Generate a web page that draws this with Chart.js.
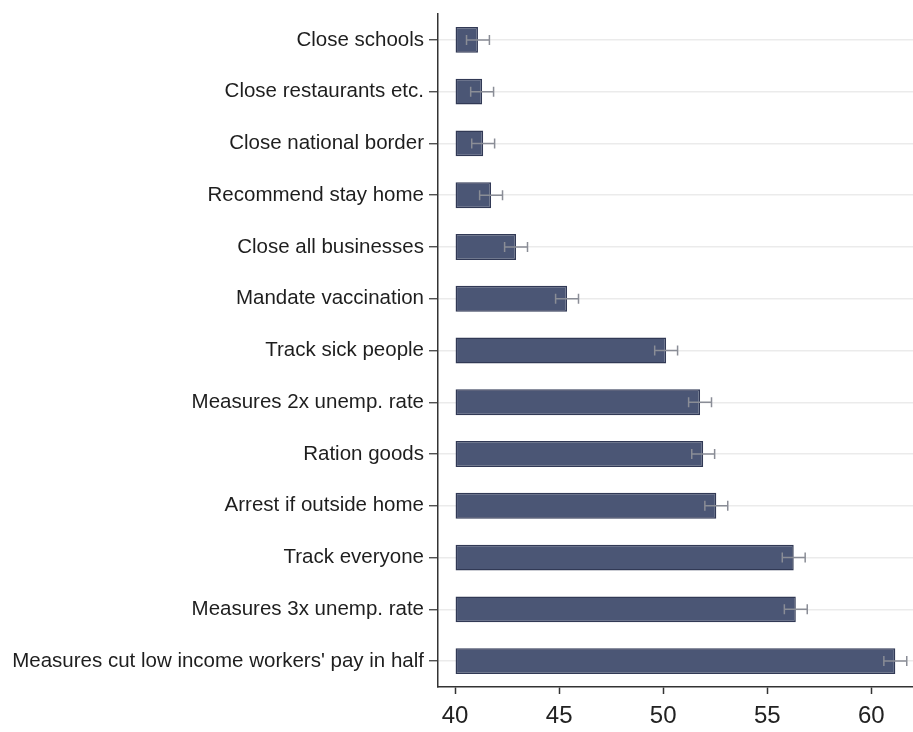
<!DOCTYPE html>
<html>
<head>
<meta charset="utf-8">
<script src="https://cdn.jsdelivr.net/npm/chart.js@4/dist/chart.umd.min.js"></script>
<style>
  html, body { margin: 0; padding: 0; background: #fff; }
  #wrap { width: 913px; height: 732px; }
</style>
</head>
<body>
<div id="wrap"><canvas id="grafico"></canvas></div>
<script>
const d = document;

//Datos
const categorias = [
  "Close schools",
  "Close restaurants etc.",
  "Close national border",
  "Recommend stay home",
  "Close all businesses",
  "Mandate vaccination",
  "Track sick people",
  "Measures 2x unemp. rate",
  "Ration goods",
  "Arrest if outside home",
  "Track everyone",
  "Measures 3x unemp. rate",
  "Measures cut low income workers' pay in half"
];
const valores = [41.1, 41.3, 41.35, 41.73, 42.93, 45.38, 50.14, 51.77, 51.92, 52.55, 56.27, 56.37, 61.15];
const errores = [0.55, 0.55, 0.55, 0.55, 0.55, 0.55, 0.55, 0.55, 0.55, 0.55, 0.55, 0.55, 0.55];
const ticksX = [40, 45, 50, 55, 60];
const baseX = 40;

//Plugin barras de error
const barrasError = {
  id: "barrasError",
  afterDatasetsDraw(chart) {
    const ctx = chart.ctx, sx = chart.scales.x, sy = chart.scales.y;
    ctx.save();
    ctx.strokeStyle = "#8a8d96";
    ctx.lineWidth = 1.5;
    valores.forEach((v, i) => {
      let y = sy.getPixelForValue(i),
        x1 = sx.getPixelForValue(v - errores[i]),
        x2 = sx.getPixelForValue(v + errores[i]);
      ctx.beginPath();
      ctx.moveTo(x1, y); ctx.lineTo(x2, y);
      ctx.moveTo(x1, y - 5); ctx.lineTo(x1, y + 5);
      ctx.moveTo(x2, y - 5); ctx.lineTo(x2, y + 5);
      ctx.stroke();
    });
    ctx.restore();
  }
};

const config = {
  type: "bar",
  data: {
    labels: categorias,
    datasets: [{
      data: valores,
      base: baseX,
      backgroundColor: "#4b5675",
      borderColor: "#313955",
      borderWidth: 1.5,
      borderSkipped: false,
      barPercentage: 0.5,
      categoryPercentage: 1
    }]
  },
  options: {
    indexAxis: "y",
    responsive: true,
    maintainAspectRatio: false,
    animation: false,
    layout: { padding: { top: 14, right: 0, bottom: 0, left: 0 } },
    plugins: { legend: { display: false }, tooltip: { enabled: false } },
    scales: {
      x: {
        min: 39.18,
        max: 62,
        afterBuildTicks: (s) => { s.ticks = ticksX.map(v => ({ value: v })); },
        afterFit: (s) => { s.height = 45; },
        border: { color: "#333", width: 1.5 },
        grid: { drawOnChartArea: false, tickLength: 7, tickColor: "#333", tickWidth: 1.5 },
        ticks: { color: "#222", font: { family: "Liberation Sans", size: 24 }, padding: 8, maxRotation: 0 }
      },
      y: {
        afterFit: (s) => { s.width = 438; s.paddingTop = 0; s.paddingBottom = 0; },
        border: { color: "#333", width: 1.5 },
        grid: { offset: false, color: "#ebebeb", lineWidth: 1.5, tickLength: 9, tickColor: "#333", tickWidth: 1.2 },
        ticks: { color: "#1e1e1e", font: { family: "Liberation Sans", size: 20.5 }, padding: 5 }
      }
    }
  },
  plugins: [barrasError]
};

new Chart(d.getElementById("grafico"), config);
</script>
</body>
</html>
